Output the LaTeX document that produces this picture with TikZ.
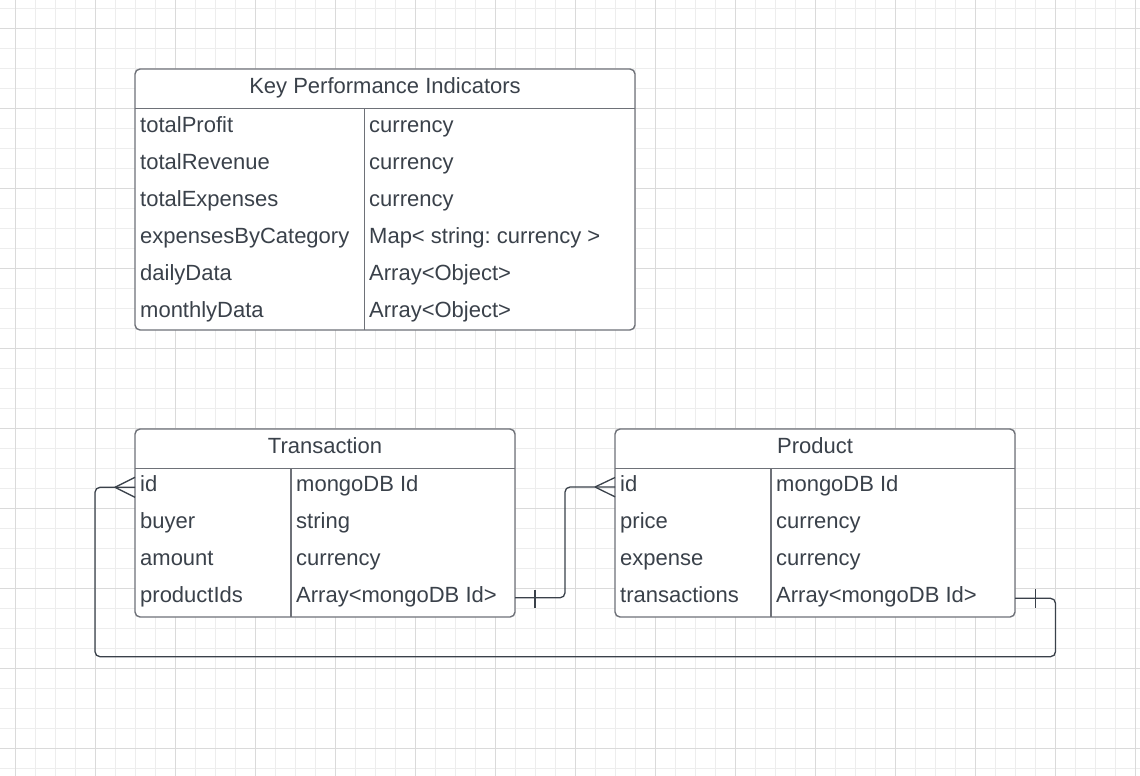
\documentclass[tikz,border=0pt]{standalone}
\usepackage{fontspec}
\setmainfont{Liberation Sans}
\frenchspacing
\definecolor{txt}{HTML}{3A414A}
\definecolor{bord}{HTML}{6E7178}
\definecolor{gmin}{HTML}{EDEDED}
\definecolor{gmaj}{HTML}{DADADA}
\tikzset{
  tbl/.style={draw=bord, line width=1.4pt, rounded corners=5pt, fill=white, inner sep=0pt, outer sep=0pt},
  sepline/.style={draw=bord, line width=1.3pt},
  cell/.style={anchor=base west, inner sep=0pt, text=txt, font=\fontsize{22}{26}\selectfont\frenchspacing},
  head/.style={anchor=base, inner sep=0pt, text=txt, font=\fontsize{22}{26}\selectfont\frenchspacing},
  conn/.style={draw=txt, line width=1.3pt, rounded corners=5pt},
  tip/.style={draw=txt, line width=1.3pt},
}
\begin{document}
\begin{tikzpicture}[x=1pt,y=-1pt]
\useasboundingbox (0,0) rectangle (1140,776);
\fill[white] (0,0) rectangle (1140,776);
% grid
\foreach \x in {15.7,35.7,...,1140} \draw[gmin, line width=1pt] (\x,0) -- (\x,776);
\foreach \y in {8.3,28.3,...,776} \draw[gmin, line width=1pt] (0,\y) -- (1140,\y);
\foreach \x in {15.7,95.7,...,1140} \draw[gmaj, line width=1pt] (\x,0) -- (\x,776);
\foreach \y in {28.3,108.3,...,776} \draw[gmaj, line width=1pt] (0,\y) -- (1140,\y);

% ---------- KPI table ----------
\node[tbl, minimum width=500pt, minimum height=261pt] (kpi) at (385,199.5) {};
\draw[sepline] (135,108.5) -- (635,108.5);
\draw[sepline] (364.5,108.5) -- (364.5,330);
\node[head] (kpih) at (385,93) {Key Performance Indicators};
\node[cell] (k1a) at (140,132.7) {totalProfit};
\node[cell] (k1b) at (369,132.7) {currency};
\node[cell] (k2a) at (140,169.6) {totalRevenue};
\node[cell] (k2b) at (369,169.6) {currency};
\node[cell] (k3a) at (140,206.5) {totalExpenses};
\node[cell] (k3b) at (369,206.5) {currency};
\node[cell] (k4a) at (140,243.4) {expensesByCategory};
\node[cell] (k4b) at (369,243.4) {Map< string: currency >};
\node[cell] (k5a) at (140,280.3) {dailyData};
\node[cell] (k5b) at (369,280.3) {Array<Object>};
\node[cell] (k6a) at (140,317.2) {monthlyData};
\node[cell] (k6b) at (369,317.2) {Array<Object>};

% ---------- Transaction table ----------
\node[tbl, minimum width=380pt, minimum height=188pt] (tx) at (325,523) {};
\draw[sepline] (135,468.5) -- (515,468.5);
\draw[sepline] (291,468.5) -- (291,617);
\node[head] (txh) at (325,453.3) {Transaction};
\node[cell] (t1a) at (140,491.7) {id};
\node[cell] (t1b) at (296,491.7) {mongoDB Id};
\node[cell] (t2a) at (140,528.6) {buyer};
\node[cell] (t2b) at (296,528.6) {string};
\node[cell] (t3a) at (140,565.5) {amount};
\node[cell] (t3b) at (296,565.5) {currency};
\node[cell] (t4a) at (140,602.4) {productIds};
\node[cell] (t4b) at (296,602.4) {Array<mongoDB Id>};

% ---------- Product table ----------
\node[tbl, minimum width=400pt, minimum height=188pt] (pr) at (815,523) {};
\draw[sepline] (615,468.5) -- (1015,468.5);
\draw[sepline] (771,468.5) -- (771,617);
\node[head] (prh) at (815,453.3) {Product};
\node[cell] (p1a) at (620,491.7) {id};
\node[cell] (p1b) at (776,491.7) {mongoDB Id};
\node[cell] (p2a) at (620,528.6) {price};
\node[cell] (p2b) at (776,528.6) {currency};
\node[cell] (p3a) at (620,565.5) {expense};
\node[cell] (p3b) at (776,565.5) {currency};
\node[cell] (p4a) at (620,602.4) {transactions};
\node[cell] (p4b) at (776,602.4) {Array<mongoDB Id>};

% ports
\coordinate (txpid) at (tx.east |- 0,597.8);
\coordinate (prid) at (pr.west |- 0,487);
\coordinate (prtr) at (pr.east |- 0,598.3);
\coordinate (txid) at (tx.west |- 0,487.3);

% connector: Transaction.productIds -> Product.id
\draw[conn] (txpid) -- (565,597.8) -- (565,487) -- (prid);
\draw[tip] (535,590) -- (535,608);
\draw[tip] (595,487) -- (615,477.5);
\draw[tip] (595,487) -- (615,496.8);

% connector: Product.transactions -> Transaction.id
\draw[conn] (prtr) -- (1055.5,598.3) -- (1055.5,656.7) -- (95,656.7) -- (95,487.3) -- (txid);
\draw[tip] (1035.7,589) -- (1035.7,608);
\draw[tip] (115,487.3) -- (135,477.3);
\draw[tip] (115,487.3) -- (135,497.3);
\end{tikzpicture}
\end{document}
